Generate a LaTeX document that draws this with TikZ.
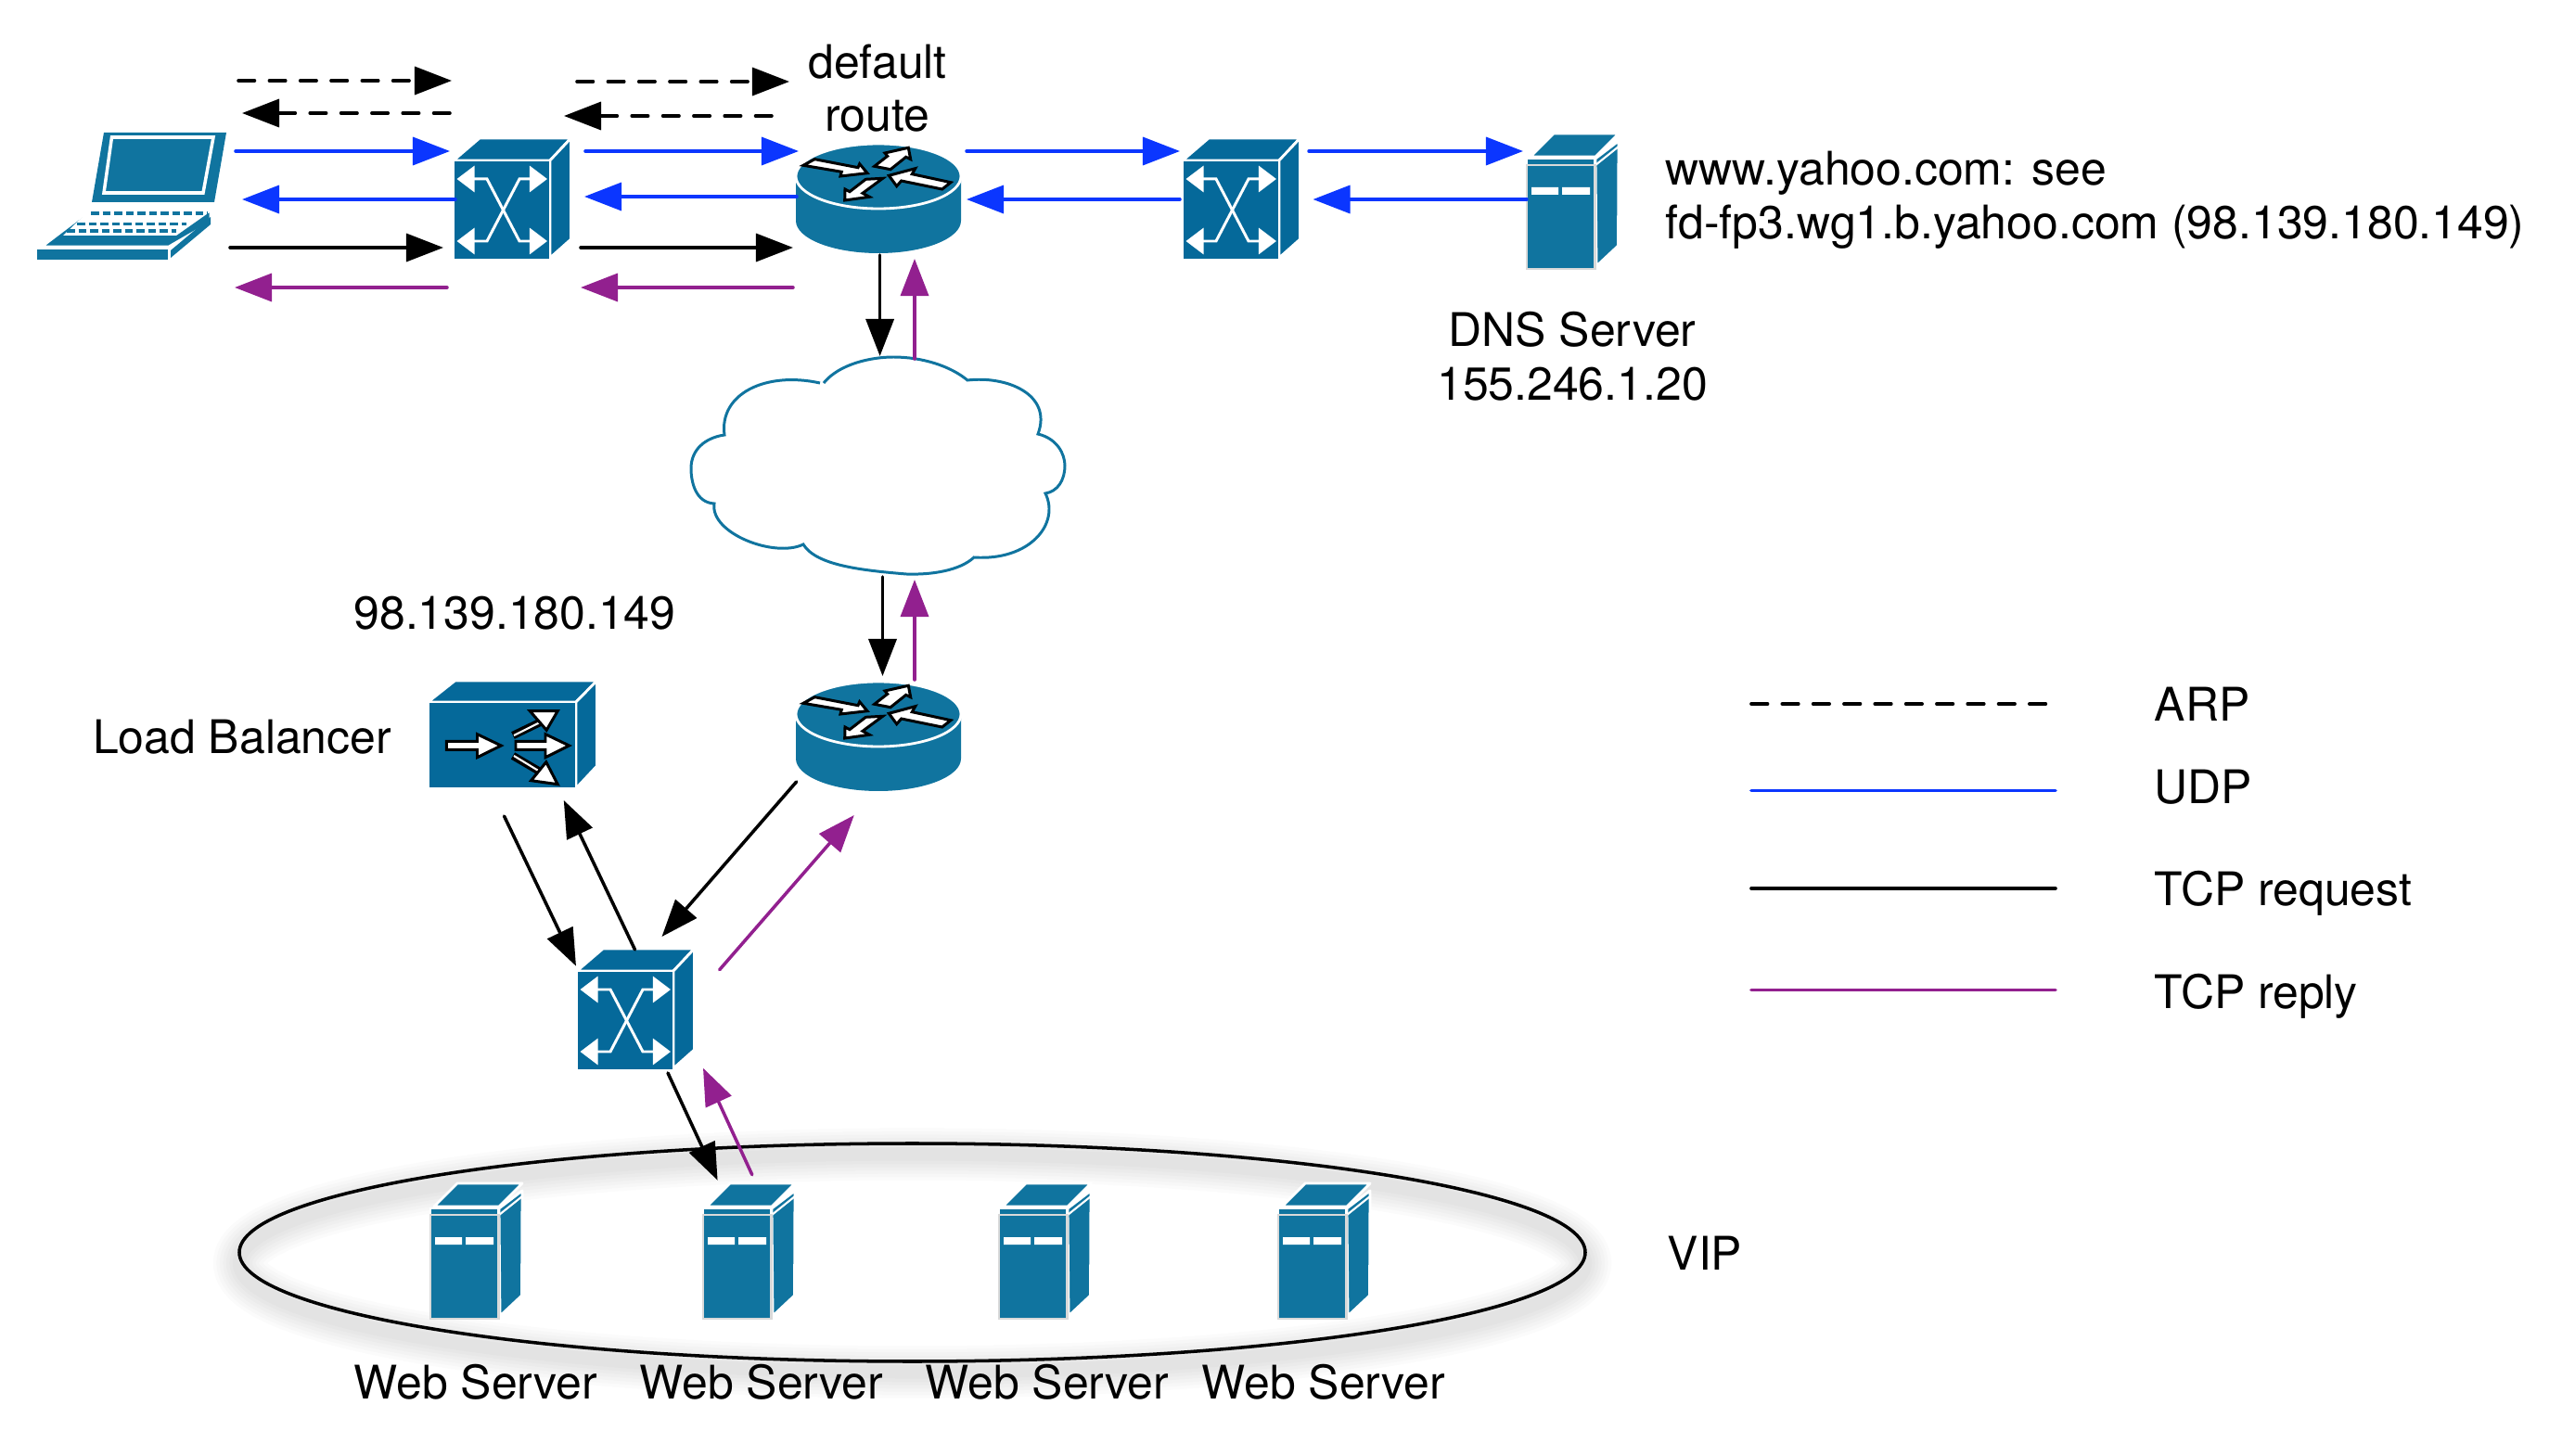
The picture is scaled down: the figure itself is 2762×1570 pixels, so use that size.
\documentclass[tikz,border=0pt]{standalone}
\usepackage{fontspec}
\setmainfont{TeX Gyre Heros}
\usetikzlibrary{arrows.meta}
\definecolor{netd}{HTML}{05699A}
\definecolor{netl}{HTML}{10749F}
\definecolor{udpb}{HTML}{0B36FF}
\definecolor{tcpr}{HTML}{92208F}
\tikzset{
  arp/.style={-{Triangle[length=4mm,width=3mm]},black,line width=1pt,line cap=round,dash pattern=on 1.75mm off 1.58mm},
  udp/.style={-{Triangle[length=4mm,width=3mm]},udpb,line width=1pt,line cap=round},
  req/.style={-{Triangle[length=4mm,width=3mm]},black,line width=1pt,line cap=round},
  rep/.style={-{Triangle[length=4mm,width=3mm]},tcpr,line width=1pt,line cap=round},
  key/.style={line width=1.05pt,line cap=round},
  lab/.style={font=\fontsize{14.2}{16.4}\selectfont,inner sep=0pt,align=center},
  devcell/.style={inner sep=0pt,minimum size=1.2cm},
  face/.style={fill=#1,draw=white,line width=0.8pt,line join=round},
  markbox/.style={fill=white,draw=black,line width=0.85pt,line join=miter},
  cross/.style={{Triangle[length=1.9mm,width=2.8mm]}-{Triangle[length=1.9mm,width=2.8mm]},white,line width=0.85pt},
  swbox/.pic={
    \draw[face=netd] (-62.5,-42)--(-34.5,-66)--(64,-66)--(41.5,-42)--cycle;
    \draw[face=netd] (41.5,-42)--(64,-66)--(64,43)--(41.5,63)--cycle;
    \draw[face=netd] (-62.5,-42) rectangle (41.5,65);
    \draw[cross] (-59,-22)--(-26.5,-22)--(8.5,45)--(38.5,45);
    \draw[cross] (38.5,-22)--(8.5,-22)--(-26.5,45)--(-59,45);
  },
  rtbox/.pic={
    \fill[netl] (-89,-24)--(-89,24) arc (180:0:89 and 35)--(89,-24)--cycle;
    \draw[face=netl] (0,-24) ellipse (89 and 35);
    \draw[markbox] (-68.7,-42.3)--(-22,-33.3)--(-20.3,-37.3)--(-12,-27.3)--(-41,-24)--(-39.7,-28.7)--(-81,-35.7)--cycle;
    \draw[markbox] (-4.3,-34.7)--(9.7,-45.7)--(7,-49)--(32.3,-54.7)--(34.7,-42.3)--(29.7,-44.7)--(13,-31.3)--cycle;
    \draw[markbox] (11.3,-24.7)--(39.7,-32.3)--(36.3,-26.3)--(78,-17.3)--(68.7,-10)--(24.7,-19)--(19.7,-13.3)--cycle;
    \draw[markbox] (-36.3,2)--(-36,-10)--(-31,-7.3)--(-13.7,-20.7)--(4.7,-21.7)--(-17,-5.7)--(-9.7,-1.7)--cycle;
  },
  lbbox/.pic={
    \draw[face=netd] (-90.5,-35)--(-61.5,-58)--(91.5,-58)--(69,-35)--cycle;
    \draw[face=netd] (69,-35)--(91.5,-58)--(91.5,34)--(69,58)--cycle;
    \draw[face=netd] (-90.5,-35) rectangle (69,58);
    \draw[markbox] (-70.6,7.3)--(-37.5,7.3)--(-37.5,-0.3)--(-11.8,12)--(-37.5,24.7)--(-37.5,16.3)--(-70.6,16.3)--cycle;
    \draw[markbox] (4,7.3)--(36,7.3)--(36,-0.3)--(61.6,12)--(36,24.7)--(36,16.3)--(4,16.3)--cycle;
    \draw[black,line width=2.4pt] (1,1)--(30,-13);
    \draw[white,line width=0.6pt] (2,1)--(30,-13);
    \draw[markbox] (19.3,-25.3)--(49.2,-25.3)--(37.2,-4.7)--cycle;
    \draw[black,line width=2.4pt] (1,23)--(30,40);
    \draw[white,line width=0.6pt] (2,23)--(30,40);
    \draw[markbox] (20.6,49.7)--(49.2,53.7)--(36.8,29.7)--cycle;
  },
  srvbox/.pic={
    \draw[face=netl] (-45,-49)--(-20,-74)--(50,-74)--(25,-49)--cycle;
    \draw[face=netl] (25,-47)--(50,-66)--(49.5,47)--(26,69)--cycle;
    \draw[white,line width=0.6pt] (25,-40)--(50,-60);
    \draw[face=netl] (-49,-47) rectangle (24.5,-40);
    \draw[fill=netl,draw=black!15,line width=0.6pt] (-49,-40) rectangle (24.5,72);
    \fill[white] (-44,-16) rectangle (-15,-8) (-11,-16) rectangle (19,-8);
  },
  lapbox/.pic={
    \fill[netl] (-20,-69)--(112,-69)--(99,6)--(-33,6)--cycle;
    \draw[white,line width=1pt] (-11.5,-64)--(98,-64)--(87,-4)--(-20,-4)--cycle;
    \draw[face=netl] (-37,16)--(95,16)--(95,28)--(50,54)--(-87,54)--cycle;
    \fill[netl] (52,66)--(95,30)--(95,22)--(52,58)--cycle;
    \fill[white] (-37,16)--(95,16)--(58,42)--(-64,42)--cycle;
    \draw[netl,line width=1.1pt,dash pattern=on 0.85mm off 0.4mm] (-34,18)--(92,18);
    \draw[netl,line width=1.1pt,dash pattern=on 0.85mm off 0.4mm] (-49,29.5)--(69,29.5);
    \draw[netl,line width=1.1pt,dash pattern=on 0.85mm off 0.4mm] (-60,37)--(58,37);
    \draw[face=netl] (-93.5,56) rectangle (50,69);
  },
}
\begin{document}
\begin{tikzpicture}[x=0.01cm,y=-0.01cm]
  \useasboundingbox (0,0) rectangle (2762,1570);
  % VIP ring with its soft shadow
  \foreach \w in {16,14,12,10,8,6,4}
    \draw[black,opacity=0.015,line width=\w pt] (983.5,1362) ellipse (725.5 and 117.5);
  \draw[black,line width=1pt] (983.5,1350.5) ellipse (725.5 and 117.5);

  \node[devcell] (laptop) at (132,212) {};
  \node[devcell] (swa) at (551.5,215) {};
  \node[devcell] (rta) at (947,214) {};
  \node[devcell] (swb) at (1337.5,215) {};
  \node[devcell] (dns) at (1695,218) {};
  \node[devcell] (cloud) at (948,503) {};
  \node[devcell] (rtb) at (947,794) {};
  \node[devcell] (lb) at (552,792) {};
  \node[devcell] (swc) at (684.5,1089) {};
  \node[devcell] (weba) at (513,1350) {};
  \node[devcell] (webb) at (807,1350) {};
  \node[devcell] (webc) at (1126,1350) {};
  \node[devcell] (webd) at (1427,1350) {};

  \pic at (laptop) {lapbox};
  \pic at (swa) {swbox};
  \pic at (rta) {rtbox};
  \pic at (swb) {swbox};
  \pic at (dns) {srvbox};
  \pic at (rtb) {rtbox};
  \pic at (lb) {lbbox};
  \pic at (swc) {swbox};
  \pic at (weba) {srvbox};
  \pic at (webb) {srvbox};
  \pic at (webc) {srvbox};
  \pic at (webd) {srvbox};

  \draw[netl,fill=white,line width=0.85pt] (888,413) .. controls (905,392) and (940,385) .. (963,385)
    .. controls (995,385) and (1025,395) .. (1043,410)
    .. controls (1085,405) and (1135,425) .. (1119,468)
    .. controls (1140,473) and (1148,490) .. (1148,502)
    .. controls (1148,518) and (1140,530) .. (1127,532)
    .. controls (1143,565) and (1110,605) .. (1050,601)
    .. controls (1035,615) and (1005,620) .. (977,619)
    .. controls (930,615) and (880,610) .. (866,587)
    .. controls (835,602) and (765,575) .. (770,543)
    .. controls (750,542) and (745,520) .. (745,505)
    .. controls (745,485) and (760,472) .. (781,469)
    .. controls (775,425) and (825,400) .. (884,413);

  % laptop side
  \draw[arp] ([shift={(125,-125)}]laptop.center) -- ([shift={(-64.5,-128)}]swa.center);
  \draw[arp] ([shift={(-66.5,-93)}]swa.center) -- ([shift={(129,-90)}]laptop.center);
  \draw[udp] ([shift={(122,-49)}]laptop.center) -- ([shift={(-66.5,-52)}]swa.center);
  \draw[udp] ([shift={(-60.5,0)}]swa.center) -- ([shift={(129,3)}]laptop.center);
  \draw[req] ([shift={(116,55)}]laptop.center) -- ([shift={(-73.5,52)}]swa.center);
  \draw[rep] ([shift={(-69.5,95)}]swa.center) -- ([shift={(121,98)}]laptop.center);
  % switch to router
  \draw[arp] ([shift={(70.5,-127)}]swa.center) -- ([shift={(-96,-126)}]rta.center);
  \draw[arp] ([shift={(-115,-89)}]rta.center) -- ([shift={(56.5,-90)}]swa.center);
  \draw[udp] ([shift={(79.5,-52)}]swa.center) -- ([shift={(-86,-51)}]rta.center);
  \draw[udp] ([shift={(-88,-2)}]rta.center) -- ([shift={(78.5,-3)}]swa.center);
  \draw[req] ([shift={(74.5,52)}]swa.center) -- ([shift={(-92,53)}]rta.center);
  \draw[rep] ([shift={(-92,96)}]rta.center) -- ([shift={(74.5,95)}]swa.center);
  % towards the DNS server
  \draw[udp] ([shift={(95,-51)}]rta.center) -- ([shift={(-65.5,-52)}]swb.center);
  \draw[udp] ([shift={(-65.5,0)}]swb.center) -- ([shift={(95,1)}]rta.center);
  \draw[udp] ([shift={(73.5,-52)}]swb.center) -- ([shift={(-53,-55)}]dns.center);
  \draw[udp] ([shift={(-49,-3)}]dns.center) -- ([shift={(78,0)}]swb.center);
  % through the cloud
  \draw[req] ([shift={(1.6,61)}]rta.center) -- ([shift={(0.6,-119)}]cloud.center);
  \draw[rep] ([shift={(38,-116)}]cloud.center) -- ([shift={(39,65)}]rta.center);
  \draw[req] ([shift={(3.5,119)}]cloud.center) -- ([shift={(4.5,-65)}]rtb.center);
  \draw[rep] ([shift={(39,-61)}]rtb.center) -- ([shift={(38,122)}]cloud.center);
  % lower part
  \draw[req] ([shift={(-88.4,49)}]rtb.center) -- ([shift={(29,-79)}]swc.center);
  \draw[rep] ([shift={(91.2,-43.3)}]swc.center) -- ([shift={(-26.2,85)}]rtb.center);
  \draw[req] ([shift={(-8.5,88)}]lb.center) -- ([shift={(-63.5,-47.3)}]swc.center);
  \draw[req] ([shift={(0,-65)}]swc.center) -- ([shift={(55.8,71)}]lb.center);
  \draw[req] ([shift={(35.5,68)}]swc.center) -- ([shift={(-33.4,-77.3)}]webb.center);
  \draw[rep] ([shift={(3.8,-83.3)}]webb.center) -- ([shift={(73.5,62.7)}]swc.center);

  \node[lab] (route) at (946,95) {default\\route};
  \node[lab,anchor=west,align=left] (yahoo) at (1795,216) {www.yahoo.com: see\\fd-fp3.wg1.b.yahoo.com (98.139.180.149)};
  \node[lab] (dnslab) at (1695,384) {DNS Server\\155.246.1.20};
  \node[lab] (viplab) at (555,661) {98.139.180.149};
  \node[lab] (lblab) at (261,795) {Load Balancer};
  \node[lab,anchor=west] (vip) at (1797,1351) {VIP};
  \node[lab] (weblaba) at (513,1490) {Web Server};
  \node[lab] (weblabb) at (821,1490) {Web Server};
  \node[lab] (weblabc) at (1129,1490) {Web Server};
  \node[lab] (weblabd) at (1427,1490) {Web Server};

  % legend
  \node[lab,anchor=west] (arplab) at (2322,759) {ARP};
  \node[lab,anchor=west] (udplab) at (2322,849) {UDP};
  \node[lab,anchor=west] (reqlab) at (2322,963) {TCP request};
  \node[lab,anchor=west] (replab) at (2322,1074) {TCP reply};
  \coordinate (keya) at (1888,759);
  \coordinate (keyb) at (1888,852.5);
  \coordinate (keyc) at (1888,958);
  \coordinate (keyd) at (1888,1067.5);
  \draw[key,black,dash pattern=on 1.75mm off 1.58mm] (keya) -- ([xshift=-11.5mm]keya -| arplab.west);
  \draw[key,udpb] (keyb) -- ([xshift=-10.6mm]keyb -| udplab.west);
  \draw[key,black] (keyc) -- ([xshift=-10.6mm]keyc -| reqlab.west);
  \draw[key,tcpr] (keyd) -- ([xshift=-10.6mm]keyd -| replab.west);
\end{tikzpicture}
\end{document}
